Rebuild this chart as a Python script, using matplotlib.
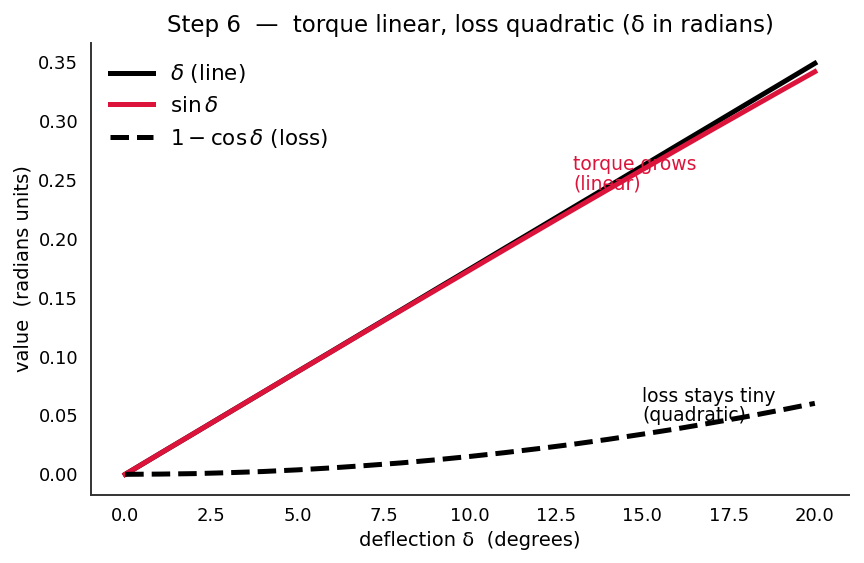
import numpy as np
import matplotlib.pyplot as plt

# deflection in degrees and values
deg = [0, 1, 2, 3, 4, 5, 6, 7, 8, 9, 10, 11, 12, 13, 14, 15, 16, 17, 18, 19, 20]
delta_rad = [0.0, 0.0175, 0.0349, 0.0524, 0.0698, 0.0873, 0.1047, 0.1222, 0.1396, 0.1571, 0.1745,
             0.1920, 0.2094, 0.2269, 0.2443, 0.2618, 0.2793, 0.2967, 0.3142, 0.3316, 0.3491]
sin_d = [0.0, 0.0175, 0.0349, 0.0523, 0.0698, 0.0872, 0.1045, 0.1219, 0.1392, 0.1564, 0.1736,
         0.1908, 0.2079, 0.2250, 0.2419, 0.2588, 0.2756, 0.2924, 0.3090, 0.3256, 0.3420]
loss = [0.0, 0.0002, 0.0006, 0.0014, 0.0024, 0.0038, 0.0055, 0.0075, 0.0097, 0.0123, 0.0152,
        0.0184, 0.0219, 0.0256, 0.0297, 0.0341, 0.0387, 0.0437, 0.0489, 0.0545, 0.0603]

crimson = '#dc143c'

fig, ax = plt.subplots(figsize=(8.64, 5.63), dpi=100)
fig.subplots_adjust(left=0.105, right=0.983, bottom=0.121, top=0.924)
ax.plot(deg, delta_rad, color='black', lw=3.6, label=r'$\delta$ (line)')
ax.plot(deg, sin_d, color=crimson, lw=3.6, label=r'$\sin\delta$')
ax.plot(deg, loss, color='black', lw=3.6, ls='--', label=r'$1-\cos\delta$ (loss)')

ax.text(13, 0.242, 'torque grows\n(linear)', color=crimson, fontsize=13.5, linespacing=1.0)
ax.text(15, 0.045, 'loss stays tiny\n(quadratic)', color='black', fontsize=13.5, linespacing=1.0)

ax.set_title('Step 6  —  torque linear, loss quadratic (δ in radians)', fontsize=16.5, pad=8)
ax.set_xlabel('deflection δ  (degrees)', fontsize=14)
ax.set_ylabel('value  (radians units)', fontsize=14)
ax.set_xticks(np.arange(0, 20.1, 2.5))
ax.set_yticks(np.arange(0, 0.351, 0.05))
ax.tick_params(length=0, labelsize=13, pad=9)
for s in ['left', 'bottom']:
    ax.spines[s].set_color('#333333')
    ax.spines[s].set_linewidth(1.4)
ax.spines['top'].set_visible(False)
ax.spines['right'].set_visible(False)
ax.legend(frameon=False, fontsize=15.5, loc='upper left', handlelength=2.0)

plt.savefig('out.png')
